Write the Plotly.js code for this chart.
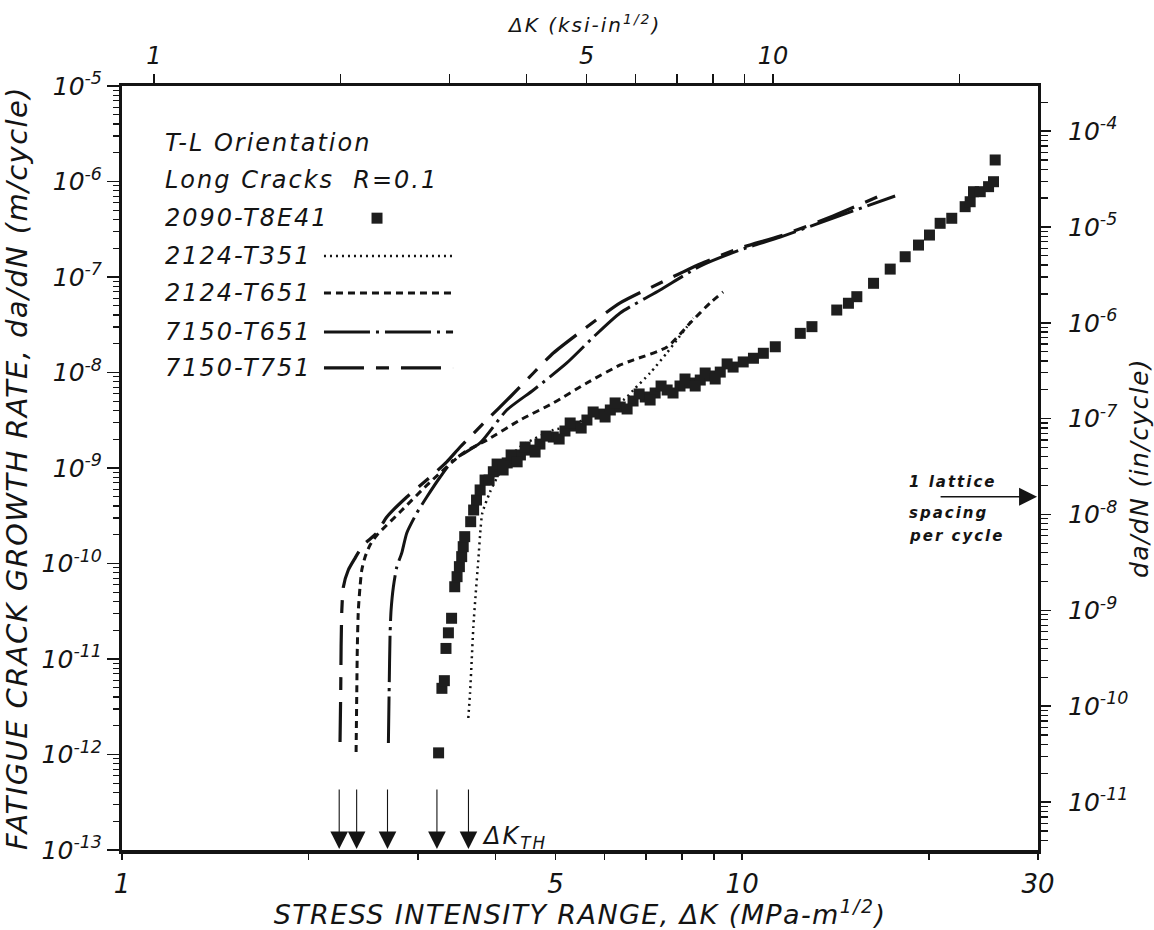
<!DOCTYPE html>
<html>
<head>
<meta charset="utf-8">
<script src="https://cdn.plot.ly/plotly-3.0.1.min.js"></script>
<style>
html,body{margin:0;padding:0;background:#fff;}
#chart{width:1154px;height:930px;}
#chart text.xtitle, #chart text.ytitle, #chart text.y2title { letter-spacing: 1.4px; }
#chart .annotation-text { letter-spacing: 2px; }
</style>
</head>
<body>
<div id="chart"></div>
<script>
// ---- Data (ΔK in MPa·m^1/2, da/dN in m/cycle) ----
const K_2090 = [3.24,3.28,3.31,3.33,3.36,3.40,3.44,3.47,3.50,3.53,3.55,3.57,3.65,3.69,3.73,3.78,3.85,3.97,4.07,4.18,4.31,4.39,4.55,4.72,4.96,5.18,5.38,5.62,5.90,6.13,6.36,6.67,6.98,7.24,7.57,7.94,8.25,8.56,8.88,9.22,9.67,10.04,10.43,10.82,11.31,12.41,12.96,14.21,14.84,15.31,16.29,17.33,18.32,19.25,20.05,20.86,21.78,22.89,23.32,23.61,24.21,24.97,25.43,25.59];
const rate_2090 = [1.04e-12,4.93e-12,5.93e-12,1.29e-11,1.88e-11,2.67e-11,5.71e-11,7.28e-11,9.27e-11,1.18e-10,1.50e-10,1.91e-10,2.74e-10,3.63e-10,4.62e-10,5.89e-10,7.48e-10,9.14e-10,1.05e-9,1.13e-9,1.27e-9,1.37e-9,1.54e-9,1.78e-9,2.11e-9,2.44e-9,2.75e-9,3.18e-9,3.67e-9,4.05e-9,4.35e-9,5.03e-9,5.54e-9,6.10e-9,6.56e-9,7.22e-9,7.76e-9,8.34e-9,9.19e-9,1.01e-8,1.14e-8,1.29e-8,1.41e-8,1.59e-8,1.86e-8,2.57e-8,3.02e-8,4.51e-8,5.31e-8,6.22e-8,8.59e-8,1.21e-7,1.63e-7,2.16e-7,2.75e-7,3.65e-7,4.12e-7,5.45e-7,6.14e-7,7.82e-7,7.82e-7,8.83e-7,9.95e-7,1.68e-6];
// extra squares in the dense band (upper / lower edge of the scatter)
const K_2090_band = [3.908,4.026,4.117,4.241,4.337,4.467,4.636,4.829,5.069,5.281,5.501,5.751,6.012,6.240,6.524,6.822,7.106,7.401,7.737,8.089,8.401,8.718,9.048,9.458];
const rate_2090_band = [7.48e-10,1.10e-9,9.53e-10,1.37e-9,1.16e-9,1.66e-9,1.47e-9,2.16e-9,2.01e-9,2.96e-9,2.62e-9,3.86e-9,3.42e-9,4.80e-9,4.15e-9,5.96e-9,5.15e-9,7.22e-9,6.10e-9,8.55e-9,7.22e-9,9.88e-9,8.55e-9,1.23e-8];

const K_2124T351 = [3.618,3.641,3.664,3.686,3.719,3.755,3.788,3.811,3.922,4.072,4.385,4.961,5.216,6.436,6.678,7.107,7.559,7.847,8.143,8.337];
const rate_2124T351 = [2.41e-12,4.41e-12,9.77e-12,2.16e-11,4.91e-11,1.09e-10,2.41e-10,3.38e-10,5.61e-10,9.08e-10,1.66e-9,2.50e-9,2.69e-9,5.15e-9,6.56e-9,9.88e-9,1.60e-8,2.19e-8,2.99e-8,3.72e-8];

const K_2124T651 = [2.385,2.391,2.396,2.405,2.420,2.436,2.466,2.512,2.578,2.808,3.140,3.552,3.875,4.385,4.961,5.617,6.358,6.672,7.568,8.246,8.878,9.320];
const rate_2124T651 = [1.06e-12,4.41e-12,1.34e-11,3.26e-11,5.68e-11,8.55e-11,1.17e-10,1.56e-10,1.99e-10,3.46e-10,7.13e-10,1.44e-9,1.96e-9,3.18e-9,4.80e-9,7.76e-9,1.20e-8,1.35e-8,1.85e-8,3.30e-8,5.35e-8,6.97e-8];

const K_7150T651 = [2.689,2.696,2.706,2.716,2.739,2.774,2.826,2.879,2.988,3.101,3.259,3.422,3.780,4.174,4.608,5.216,5.757,6.358,7.375,8.557,9.926,11.52,14.02,17.65];
const rate_7150T651 = [1.32e-12,4.41e-12,1.87e-11,3.26e-11,5.68e-11,9.19e-11,1.29e-10,2.09e-10,3.38e-10,4.97e-10,8.05e-10,1.21e-9,1.83e-9,4.05e-9,6.56e-9,1.26e-8,2.35e-8,4.20e-8,7.31e-8,1.30e-7,1.92e-7,2.62e-7,4.15e-7,7.05e-7];

const K_7150T751 = [2.247,2.253,2.256,2.262,2.275,2.317,2.376,2.450,2.575,2.673,2.879,3.140,3.340,3.510,3.875,4.225,4.608,4.961,5.617,6.358,7.375,8.557,9.926,11.52,14.02,16.51];
const rate_7150T751 = [1.35e-12,5.09e-12,1.34e-11,3.26e-11,5.68e-11,8.55e-11,1.14e-10,1.56e-10,2.09e-10,3.07e-10,4.97e-10,8.05e-10,1.16e-9,1.66e-9,3.18e-9,5.54e-9,9.88e-9,1.60e-8,2.99e-8,5.35e-8,8.65e-8,1.37e-7,2.01e-7,2.69e-7,4.35e-7,6.88e-7];

// Threshold ΔK_TH arrows (MPa·m^1/2)
const thresholdK = [2.24, 2.39, 2.68, 3.22, 3.62];
// 1 lattice spacing per cycle (m/cycle)
const latticeRate = 5.0e-10;

// Legend rows
const legendHeader = ['T-L Orientation', 'Long Cracks  R=0.1'];
const seriesNames = ['2090-T8E41', '2124-T351', '2124-T651', '7150-T651', '7150-T751'];
const latticeLines = ['1 lattice', 'spacing', 'per cycle'];
const topTitle = 'ΔK (ksi-in<sup>1/2</sup>)';

// Tick labels
const bottomTickVals = [1,2,3,4,5,6,7,8,9,10,20,30];
const bottomTickText = ['1','','','','5','','','','','10','','30'];
const topTickVals = [1,2,3,4,5,6,7,8,9,10,20];
const topTickText = ['1','','','','5','','','','','10',''];
const leftExps = [-13,-12,-11,-10,-9,-8,-7,-6,-5];
const rightExps = [-11,-10,-9,-8,-7,-6,-5,-4];

// ---- styling ----
const INK = '#141414';
const FONT = 'DejaVu Sans';
const dashT351 = '2px,4px';
const dashT651_2124 = '7px,5px';
const dashT651_7150 = '46px,6px,3px,6px';
const dashT751_7150 = '40px,12px,13px,12px';

function minorLog(lo, hi) {
  const v = [];
  for (let e = lo; e <= hi; e++) for (let m = 2; m <= 9; m++) v.push(m * Math.pow(10, e));
  return v;
}

const traces = [
  {x: K_2124T351, y: rate_2124T351, mode: 'lines', name: seriesNames[1],
   line: {color: INK, width: 2.5, dash: dashT351, shape: 'spline', smoothing: 0.6}},
  {x: K_2124T651, y: rate_2124T651, mode: 'lines', name: seriesNames[2],
   line: {color: INK, width: 3, dash: dashT651_2124, shape: 'spline', smoothing: 0.6}},
  {x: K_7150T651, y: rate_7150T651, mode: 'lines', name: seriesNames[3],
   line: {color: INK, width: 3, dash: dashT651_7150, shape: 'spline', smoothing: 0.6}},
  {x: K_7150T751, y: rate_7150T751, mode: 'lines', name: seriesNames[4],
   line: {color: INK, width: 3.2, dash: dashT751_7150, shape: 'spline', smoothing: 0.6}},
  {x: K_2090.concat(K_2090_band), y: rate_2090.concat(rate_2090_band), mode: 'markers', name: seriesNames[0],
   marker: {symbol: 'square', size: 11, color: '#1e1e1e', line: {width: 0}}},
  // carriers for the secondary (ksi·in^1/2 and in/cycle) scales
  {x: [], y: [], xaxis: 'x2', yaxis: 'y', mode: 'markers', hoverinfo: 'skip', showlegend: false},
  {x: [], y: [], xaxis: 'x', yaxis: 'y2', mode: 'markers', hoverinfo: 'skip', showlegend: false}
];

// Legend built as text + samples (symbol to the right of the label, as in the original)
const rowY = [0.925, 0.877, 0.827, 0.7775, 0.729, 0.678, 0.631];
const lx0 = 0.2205, lx1 = 0.3614;
const annotations = [];
const shapes = [];
legendHeader.concat(seriesNames).forEach((t, i) => {
  annotations.push({xref: 'paper', yref: 'paper', x: 0.0448, y: rowY[i], xanchor: 'left', yanchor: 'middle', align: 'left',
    text: t, showarrow: false, font: {family: FONT, size: 24, style: 'italic', color: INK}});
});
const sampleDash = [dashT351, dashT651_2124, dashT651_7150, dashT751_7150];
const sampleWidth = [2.5, 3, 3, 3.2];
sampleDash.forEach((d, i) => {
  shapes.push({type: 'line', xref: 'paper', yref: 'paper', x0: lx0, x1: lx1, y0: rowY[3 + i], y1: rowY[3 + i],
    line: {color: INK, width: sampleWidth[i], dash: d}});
});
shapes.push({type: 'rect', xref: 'paper', yref: 'paper', x0: 0.2724, x1: 0.2844, y0: rowY[2] - 0.0072, y1: rowY[2] + 0.0072,
  fillcolor: '#1e1e1e', line: {width: 0}});

// Top (ksi) axis title
annotations.push({xref: 'paper', yref: 'paper', x: 0.5044, y: 1.0805, xanchor: 'center', yanchor: 'middle',
  text: topTitle, showarrow: false, font: {family: FONT, size: 20, style: 'italic', color: INK}});

// Threshold arrows
thresholdK.forEach(k => {
  annotations.push({xref: 'x', yref: 'y', x: Math.log10(k), y: -13, ax: 0, ay: -62, text: '',
    showarrow: true, arrowhead: 2, arrowsize: 3.2, arrowwidth: 1.1, arrowcolor: INK, standoff: 1});
});
annotations.push({xref: 'paper', yref: 'paper', x: 0.391, y: 0.017, xanchor: 'left', yanchor: 'middle', align: 'left',
  text: 'ΔK<sub>TH</sub>', showarrow: false, font: {family: FONT, size: 24, color: INK}});

// Lattice spacing arrow + label
annotations.push({xref: 'paper', yref: 'y', x: 0.999, y: Math.log10(latticeRate), ax: -98, ay: 0, text: '',
  showarrow: true, arrowhead: 2, arrowsize: 2.4, arrowwidth: 1.5, arrowcolor: INK});
const latY = [0.4817, 0.4411, 0.4110];
latticeLines.forEach((t, i) => {
  annotations.push({xref: 'paper', yref: 'paper', x: 0.857, y: latY[i], xanchor: 'left', yanchor: 'middle', align: 'left',
    text: '<b>' + t + '</b>', showarrow: false, font: {family: FONT, size: 15, style: 'italic', color: INK}});
});

const axisCommon = {
  type: 'log', showgrid: false, zeroline: false, showline: true, linecolor: INK,
  tickcolor: INK, ticks: 'outside', tickmode: 'array'
};

const layout = {
  width: 1154, height: 930,
  margin: {l: 122, r: 116, t: 86, b: 80, pad: 0},
  paper_bgcolor: '#ffffff', plot_bgcolor: '#ffffff',
  font: {family: FONT, style: 'italic', color: INK, size: 22},
  showlegend: false,
  xaxis: Object.assign({}, axisCommon, {
    range: [0, Math.log10(30)], tickvals: bottomTickVals, ticktext: bottomTickText,
    ticklen: 6, tickwidth: 1.5, linewidth: 4, ticklabelstandoff: 2,
    tickfont: {family: FONT, size: 26, style: 'italic', color: INK},
    title: {text: 'STRESS INTENSITY RANGE, ΔK (MPa-m<sup>1/2</sup>)', standoff: 0,
      font: {family: FONT, size: 27, style: 'italic', color: INK}}
  }),
  xaxis2: Object.assign({}, axisCommon, {
    overlaying: 'x', side: 'top', anchor: 'y',
    range: [-0.0517, 1.4281], tickvals: topTickVals, ticktext: topTickText,
    ticklen: 9, tickwidth: 1.5, linewidth: 3, ticklabelstandoff: 0,
    tickfont: {family: FONT, size: 24, style: 'italic', color: INK}
  }),
  yaxis: Object.assign({}, axisCommon, {
    range: [-13, -5], tickvals: leftExps.map(e => Math.pow(10, e)),
    ticktext: leftExps.map(e => '10<sup>' + e + '</sup>'),
    ticklen: 12, tickwidth: 1.5, linewidth: 3,
    tickfont: {family: FONT, size: 25, style: 'italic', color: INK},
    minor: {tickmode: 'array', tickvals: minorLog(-13, -6), ticks: 'outside', ticklen: 6, tickwidth: 1.2, tickcolor: INK},
    title: {text: 'FATIGUE CRACK GROWTH RATE, da/dN (m/cycle)', standoff: 6,
      font: {family: FONT, size: 29, style: 'italic', color: INK}}
  }),
  yaxis2: Object.assign({}, axisCommon, {
    overlaying: 'y', side: 'right', anchor: 'x',
    range: [-11.5, -3.53], tickvals: rightExps.map(e => Math.pow(10, e)),
    ticktext: rightExps.map(e => '10<sup>' + e + '</sup>'),
    ticklen: 10, tickwidth: 1.5, linewidth: 3, ticklabelstandoff: 12,
    tickfont: {family: FONT, size: 25, style: 'italic', color: INK},
    minor: {tickmode: 'array', tickvals: minorLog(-12, -4), ticks: 'outside', ticklen: 7, tickwidth: 1.2, tickcolor: INK},
    title: {text: 'da/dN (in/cycle)', standoff: 6,
      font: {family: FONT, size: 25, style: 'italic', color: INK}}
  }),
  annotations: annotations,
  shapes: shapes
};

Plotly.newPlot('chart', traces, layout, {staticPlot: true, displayModeBar: false});
</script>
</body>
</html>
